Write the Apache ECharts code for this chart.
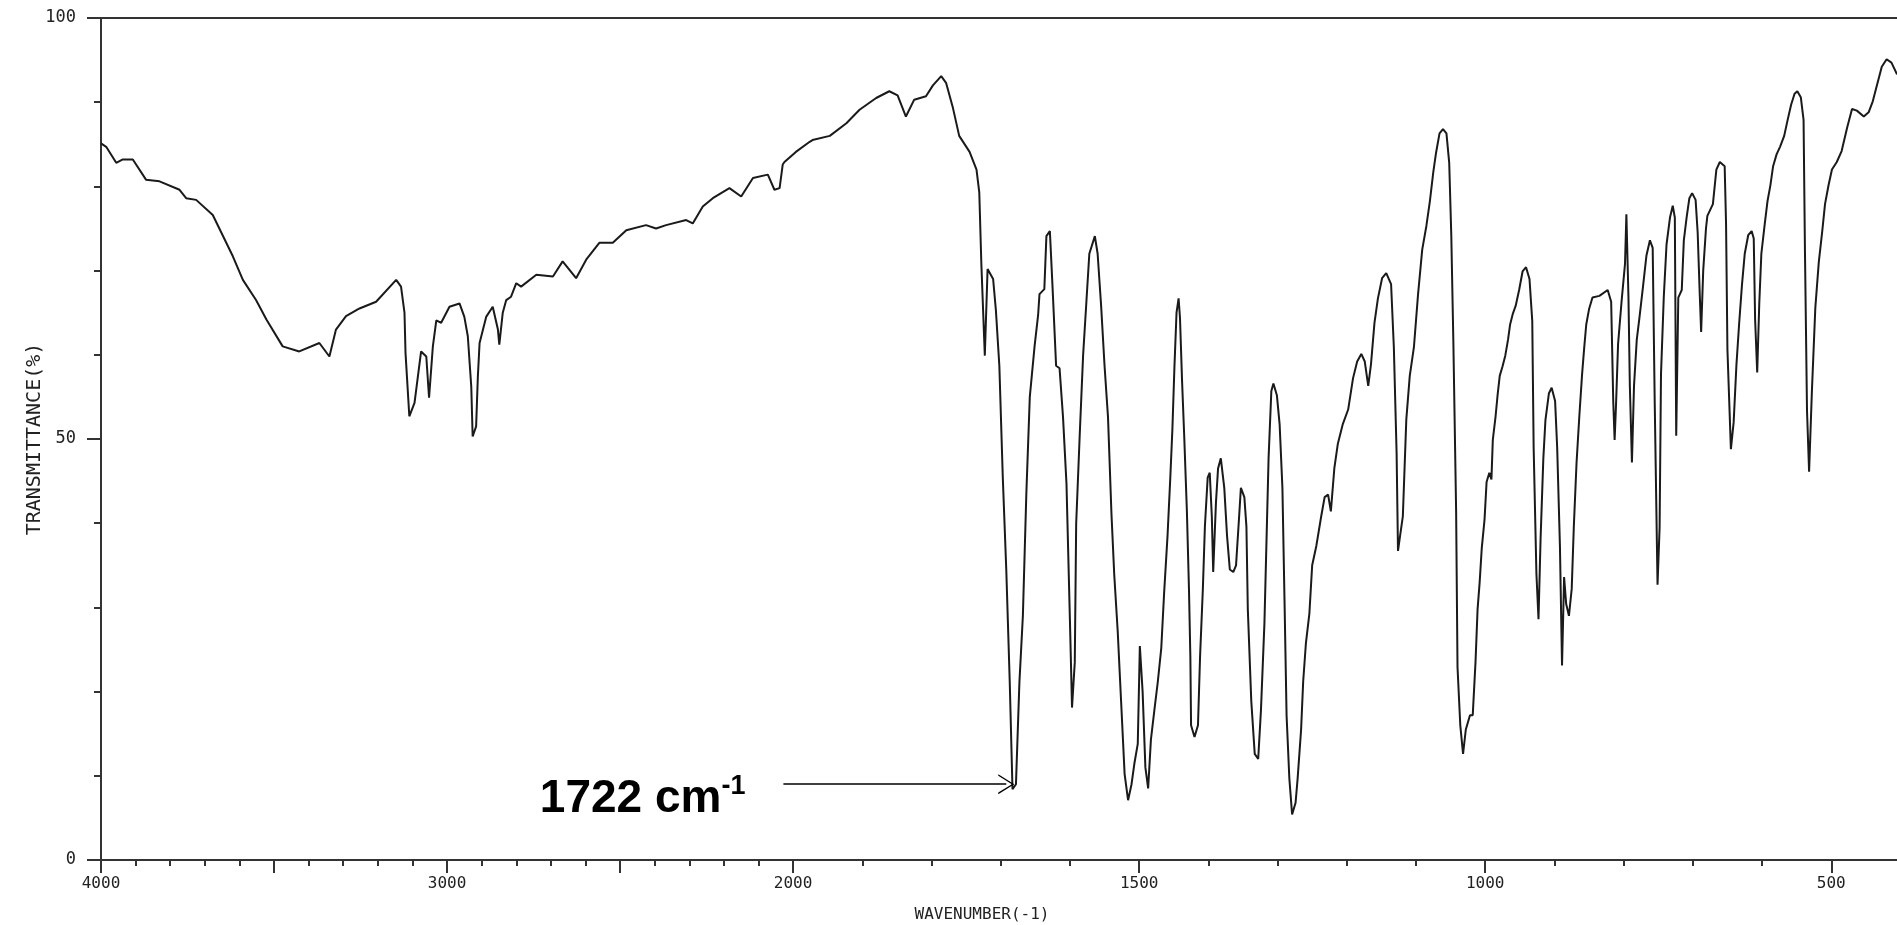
<!DOCTYPE html>
<html>
<head>
<meta charset="utf-8">
<script src="https://cdn.jsdelivr.net/npm/echarts@6/dist/echarts.min.js"></script>
<style>
  html, body { margin: 0; padding: 0; background: #fff; }
  #chart { width: 1897px; height: 925px; }
</style>
</head>
<body>
<div id="chart"></div>
<script>
// IR spectrum: wavenumber (cm-1) and transmittance (%)
const wavenumbers = [
  4000, 3985, 3956, 3937, 3908, 3870, 3831, 3773, 3754, 3725, 3677, 3619, 3590, 3552, 3522, 3475,
  3427, 3369, 3340, 3321, 3292, 3253, 3205, 3147, 3133, 3123, 3120, 3109, 3094, 3075, 3060, 3052,
  3041, 3031, 3017, 2993, 2964, 2950, 2940, 2930, 2926, 2916, 2911, 2906, 2887, 2868, 2853, 2849,
  2839, 2829, 2815, 2800, 2786, 2742, 2694, 2666, 2627, 2598, 2560, 2521, 2482, 2425, 2396, 2367,
  2309, 2290, 2261, 2232, 2184, 2150, 2116, 2073, 2054, 2039, 2030, 2025, 1996, 1976, 1972, 1947,
  1923, 1904, 1880, 1861, 1849, 1837, 1825, 1808, 1798, 1786, 1779, 1769, 1760, 1745, 1735, 1731,
  1728, 1723, 1719, 1711, 1707, 1702, 1697, 1692, 1687, 1683, 1678, 1673, 1668, 1663, 1658, 1651,
  1646, 1644, 1637, 1634, 1629, 1625, 1620, 1615, 1610, 1605, 1600, 1597, 1593, 1591, 1586, 1581,
  1576, 1572, 1564, 1560, 1555, 1550, 1545, 1540, 1536, 1531, 1526, 1521, 1516, 1511, 1507, 1502,
  1499, 1495, 1491, 1487, 1483, 1478, 1473, 1468, 1464, 1459, 1455, 1452, 1449, 1446, 1443, 1441,
  1438, 1435, 1431, 1428, 1426, 1425, 1420, 1415, 1412, 1408, 1405, 1401, 1398, 1395, 1393, 1389,
  1386, 1382, 1377, 1373, 1369, 1364, 1360, 1356, 1353, 1348, 1345, 1343, 1338, 1333, 1328, 1324,
  1319, 1316, 1313, 1309, 1306, 1301, 1297, 1293, 1290, 1287, 1283, 1279, 1274, 1271, 1266, 1263,
  1259, 1254, 1250, 1244, 1237, 1232, 1227, 1223, 1218, 1213, 1206, 1198, 1191, 1185, 1179, 1174,
  1169, 1165, 1160, 1155, 1149, 1143, 1136, 1132, 1128, 1126, 1123, 1119, 1114, 1109, 1103, 1097,
  1091, 1085, 1080, 1075, 1071, 1066, 1061, 1056, 1052, 1049, 1046, 1042, 1040, 1036, 1032, 1028,
  1022, 1018, 1014, 1011, 1008, 1005, 1001, 998, 994, 991, 989, 985, 982, 979, 975, 971,
  967, 964, 960, 956, 951, 946, 941, 936, 932, 930, 926, 923, 920, 916, 913, 908,
  904, 899, 896, 892, 889, 886, 883, 879, 875, 872, 868, 864, 860, 857, 854, 850,
  845, 835, 823, 818, 815, 813, 811, 808, 803, 798, 796, 793, 791, 788, 785, 781,
  777, 772, 767, 762, 758, 755, 751, 748, 746, 742, 738, 733, 729, 726, 724, 721,
  716, 713, 709, 705, 701, 696, 693, 690, 688, 685, 681, 679, 671, 666, 661, 654,
  652, 650, 645, 641, 637, 633, 629, 625, 620, 615, 612, 610, 607, 604, 601, 596,
  592, 588, 584, 579, 574, 568, 563, 558, 553, 549, 544, 540, 538, 535, 532, 528,
  523, 518, 513, 509, 504, 499, 492, 485, 477, 470, 463, 453, 446, 440, 434, 427,
  420, 413, 405
]
const transmittance = [
  85.1, 84.7, 82.8, 83.2, 83.2, 80.8, 80.6, 79.6, 78.6, 78.4, 76.6, 71.7, 68.9, 66.5, 64.2, 61.0,
  60.4, 61.4, 59.8, 63.0, 64.6, 65.5, 66.3, 68.9, 68.1, 65.0, 60.2, 52.7, 54.3, 60.4, 59.8, 54.9,
  61.0, 64.1, 63.8, 65.7, 66.1, 64.5, 62.2, 56.2, 50.3, 51.5, 57.4, 61.4, 64.5, 65.7, 63.0, 61.2,
  65.0, 66.5, 66.9, 68.5, 68.1, 69.5, 69.3, 71.1, 69.1, 71.3, 73.3, 73.3, 74.8, 75.4, 75.0, 75.4,
  76.0, 75.6, 77.6, 78.6, 79.8, 78.8, 81.0, 81.4, 79.6, 79.8, 82.6, 82.9, 84.1, 85.3, 85.5, 86.0,
  87.5, 89.1, 90.5, 91.3, 90.8, 88.3, 90.3, 90.7, 92.0, 93.1, 92.3, 89.3, 86.0, 84.1, 82.0, 79.3,
  70.8, 59.9, 70.2, 69.0, 65.3, 58.7, 45.4, 34.5, 21.2, 8.4, 9.0, 21.1, 29.0, 43.5, 55.0, 61.1,
  64.7, 67.2, 67.8, 74.1, 74.7, 67.8, 58.7, 58.4, 52.6, 44.7, 28.4, 18.1, 23.5, 39.9, 50.2, 59.9,
  66.6, 72.0, 74.1, 72.0, 65.9, 58.7, 52.6, 41.1, 33.9, 27.2, 18.7, 10.2, 7.1, 9.0, 11.4, 13.8,
  25.4, 20.0, 11.0, 8.5, 14.3, 17.8, 21.2, 25.2, 31.6, 38.5, 45.4, 51.1, 58.6, 65.0, 66.7, 64.4,
  56.9, 50.6, 41.4, 32.1, 24.1, 16.0, 14.6, 16.0, 24.1, 32.1, 39.6, 45.4, 46.0, 40.8, 34.2, 42.5,
  46.5, 47.7, 44.2, 38.5, 34.5, 34.2, 35.0, 40.2, 44.2, 43.1, 39.6, 29.8, 18.9, 12.6, 12.0, 17.8,
  28.1, 37.9, 47.7, 55.7, 56.6, 55.2, 51.7, 44.2, 31.0, 17.2, 9.7, 5.4, 6.8, 9.7, 15.5, 21.2,
  25.8, 29.3, 35.0, 37.3, 40.8, 43.1, 43.4, 41.4, 46.5, 49.4, 51.7, 53.5, 57.2, 59.2, 60.1, 59.2,
  56.3, 58.9, 63.8, 66.7, 69.1, 69.7, 68.4, 60.9, 48.3, 36.7, 38.5, 40.8, 52.3, 57.5, 60.9, 67.2,
  72.5, 75.3, 78.2, 81.7, 84.0, 86.3, 86.8, 86.3, 82.8, 74.2, 61.5, 41.4, 22.9, 16.0, 12.6, 15.5,
  17.2, 17.2, 23.5, 29.8, 33.0, 37.0, 40.4, 44.9, 46.0, 45.2, 49.9, 52.7, 55.3, 57.5, 58.6, 59.9,
  61.8, 63.6, 64.9, 65.8, 67.7, 69.9, 70.4, 69.0, 64.0, 49.0, 34.0, 28.6, 38.1, 47.7, 52.2, 55.4,
  56.1, 54.5, 49.0, 37.2, 23.1, 33.6, 30.4, 29.0, 32.2, 39.5, 47.2, 52.7, 57.7, 60.8, 63.6, 65.4,
  66.8, 67.0, 67.7, 66.3, 54.5, 49.9, 54.0, 61.3, 66.3, 70.8, 76.7, 66.8, 56.3, 47.2, 56.3, 61.8,
  64.5, 68.1, 71.8, 73.6, 72.7, 54.0, 32.7, 39.5, 57.7, 66.8, 73.1, 76.3, 77.7, 76.3, 50.4, 66.8,
  67.7, 73.6, 76.3, 78.6, 79.2, 78.4, 74.5, 67.2, 62.7, 70.0, 75.0, 76.5, 77.9, 82.0, 82.9, 82.4,
  75.6, 60.6, 48.8, 52.0, 58.8, 63.8, 68.3, 72.0, 74.2, 74.7, 73.8, 64.2, 57.9, 66.1, 72.0, 75.6,
  78.3, 80.1, 82.4, 83.8, 84.7, 86.0, 87.9, 89.7, 91.0, 91.3, 90.6, 87.9, 72.4, 53.3, 46.1, 55.6,
  65.6, 71.0, 74.7, 77.9, 80.1, 82.0, 82.9, 84.2, 87.0, 89.2, 89.0, 88.3, 88.8, 90.1, 92.0, 94.2,
  95.1, 94.7, 93.3
]

// axis ticks
const xLabelTicks = [4000, 3000, 2000, 1500, 1000, 500]
const xMajorTicks = [4000, 3500, 3000, 2500, 2000, 1500, 1000, 500]
const xMinorTicks = [
  3900, 3800, 3700, 3600, 3400, 3300, 3200, 3100, 2900, 2800, 2700, 2600, 2400, 2300, 2200, 2100,
  1900, 1800, 1700, 1600, 1400, 1300, 1200, 1100, 900, 800, 700, 600
]
const yLabelTicks = [0, 50, 100]
const yMinorTicks = [10, 20, 30, 40, 60, 70, 80, 90]
const xRightEnd = 405

// the chart paper has 2x more room per cm-1 below 2000, so map wavenumber -> axis position
const toPos = (wn) => (wn >= 2000 ? (4000 - wn) / 2 : 1000 + (2000 - wn))
const fromPos = (p) => (p <= 1000 ? 4000 - p * 2 : 2000 - (p - 1000))

const seriesData = wavenumbers.map((wn, i) => [toPos(wn), transmittance[i]])

const axisColor = '#333'
const monoFont = 'DejaVu Sans Mono'
const xMax = toPos(xRightEnd)

let myChart = echarts.init(document.getElementById('chart'))

let option = {
  animation: false,
  backgroundColor: '#fff',
  grid: {
    left: 101,
    right: 0,
    top: 18,
    bottom: 65,
    containLabel: false,
    outerBoundsMode: 'none'
  },
  xAxis: [
    {
      type: 'value',
      position: 'bottom',
      min: 0,
      max: xMax,
      axisLine: { show: true, lineStyle: { color: axisColor, width: 2 } },
      axisTick: {
        show: true,
        customValues: xMajorTicks.map(toPos),
        length: 13,
        lineStyle: { color: axisColor, width: 2 }
      },
      axisLabel: {
        customValues: xLabelTicks.map(toPos),
        formatter: (v) => String(Math.round(fromPos(v))),
        margin: 16,
        color: '#222',
        fontFamily: monoFont,
        fontSize: 16
      },
      splitLine: { show: false },
      name: 'WAVENUMBER(-1)',
      nameLocation: 'middle',
      nameGap: 47,
      nameMoveOverlap: false,
      nameTextStyle: {
        color: '#222',
        fontFamily: monoFont,
        fontSize: 16,
        padding: [0, 34, 0, 0]
      }
    },
    {
      type: 'value',
      position: 'bottom',
      min: 0,
      max: xMax,
      axisLine: { show: false },
      axisTick: {
        show: true,
        customValues: xMinorTicks.map(toPos),
        length: 6,
        lineStyle: { color: axisColor, width: 2 }
      },
      axisLabel: { show: false },
      splitLine: { show: false }
    },
    {
      type: 'value',
      position: 'top',
      min: 0,
      max: xMax,
      axisLine: { show: true, lineStyle: { color: axisColor, width: 2 } },
      axisTick: { show: false },
      axisLabel: { show: false },
      splitLine: { show: false }
    }
  ],
  yAxis: [
    {
      type: 'value',
      position: 'left',
      min: 0,
      max: 100,
      axisLine: { show: true, lineStyle: { color: axisColor, width: 2 } },
      axisTick: {
        show: true,
        customValues: yLabelTicks,
        length: 14,
        lineStyle: { color: axisColor, width: 2 }
      },
      axisLabel: {
        customValues: yLabelTicks,
        margin: 25,
        color: '#222',
        fontFamily: monoFont,
        fontSize: 17
      },
      splitLine: { show: false },
      name: 'TRANSMITTANCE(%)',
      nameLocation: 'middle',
      nameGap: 56,
      nameRotate: 90,
      nameMoveOverlap: false,
      nameTextStyle: {
        color: '#222',
        fontFamily: monoFont,
        fontSize: 20
      }
    },
    {
      type: 'value',
      position: 'left',
      min: 0,
      max: 100,
      axisLine: { show: false },
      axisTick: {
        show: true,
        customValues: yMinorTicks,
        length: 7,
        lineStyle: { color: axisColor, width: 2 }
      },
      axisLabel: { show: false },
      splitLine: { show: false }
    }
  ],
  series: [
    {
      name: 'IR',
      type: 'line',
      xAxisIndex: 0,
      yAxisIndex: 0,
      data: seriesData,
      showSymbol: false,
      symbol: 'none',
      lineStyle: { color: '#1a1a1a', width: 2 },
      markLine: {
        silent: true,
        symbol: ['none', 'path://M0,20 L10,0 L20,20 L18.4,20 L10,3 L1.6,20 Z'],
        symbolSize: [20, 16],
        lineStyle: { color: '#000', width: 1.5, type: 'solid' },
        label: {
          show: true,
          position: 'start',
          distance: 38,
          padding: [30, 0, 0, 0],
          formatter: '{a|1722 cm}{b|-1}',
          rich: {
            a: {
              fontFamily: 'Liberation Sans',
              fontWeight: 'bold',
              fontSize: 46,
              color: '#000',
              lineHeight: 52
            },
            b: {
              fontFamily: 'Liberation Sans',
              fontWeight: 'bold',
              fontSize: 27,
              color: '#000',
              lineHeight: 28,
              verticalAlign: 'top'
            }
          }
        },
        data: [
          [
            { coord: [toPos(2028), 9] },
            { coord: [toPos(1692), 9] }
          ]
        ]
      }
    }
  ]
}

option && myChart.setOption(option)
</script>
</body>
</html>
